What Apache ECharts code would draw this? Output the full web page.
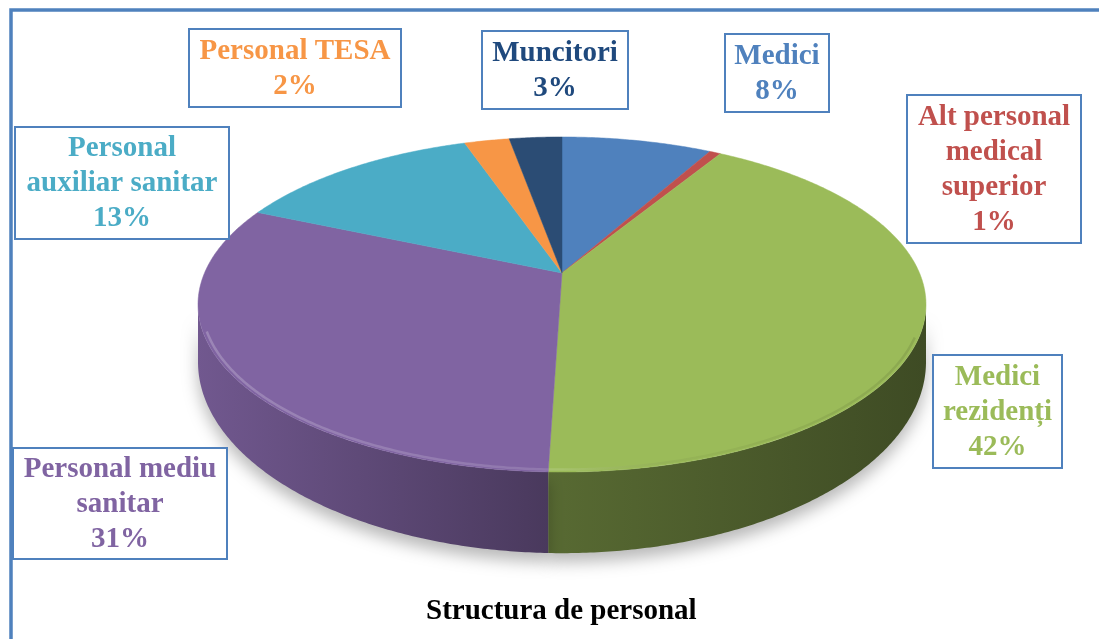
<!DOCTYPE html>
<html>
<head>
<meta charset="utf-8">
<script src="https://cdn.jsdelivr.net/npm/echarts@6/dist/echarts.min.js"></script>
<style>
  html, body { margin: 0; padding: 0; background: #fff; }
  #chart { width: 1099px; height: 639px; }
</style>
</head>
<body>
<div id="chart"></div>
<script>
// slices, clockwise from 12 o'clock
const names = ['Medici', 'Alt personal medical superior', 'Medici rezidenți', 'Personal mediu sanitar', 'Personal auxiliar sanitar', 'Personal TESA', 'Muncitori']
const values = [8.0, 0.6, 41.9, 31.1, 13.2, 2.4, 2.8]
const labelLines = ['Medici', 'Alt personal\nmedical\nsuperior', 'Medici\nrezidenți', 'Personal mediu\nsanitar', 'Personal\nauxiliar sanitar', 'Personal TESA', 'Muncitori']
const colors = ['#4F81BD', '#C0504D', '#9BBB59', '#8064A2', '#4BACC6', '#F79646', '#2B4C74']
const labelColors = ['#4F81BD', '#C0504D', '#9BBB59', '#8064A2', '#4BACC6', '#F79646', '#1F497D']
// label boxes [x, y, w, h]
const labelBoxes = [
  [725, 34, 104, 78],
  [907, 95, 174, 148],
  [933, 355, 129, 113],
  [13, 448, 214, 111],
  [15, 127, 214, 112],
  [189, 29, 212, 78],
  [482, 31, 146, 78]
]
const title = 'Structura de personal'

// perspective pie geometry
const cx = 562, cy = 273, A = 357.5, B = 161.6, k = 0.188, depth = 53.5
const total = values.reduce((a, b) => a + b, 0)
const starts = []
let acc = 0
values.forEach(v => { starts.push(acc); acc += v })

function proj(deg, drop, scale) {
  const t = deg * Math.PI / 180
  const s = scale || 1
  const u = Math.sin(t) * s, v = -Math.cos(t) * s
  const w = 1 / (1 - k * v)
  return [cx + A * u * w, cy + B * v * w + drop * w * w]
}

function arc(a, b, drop, scale) {
  const pts = []
  const n = Math.max(2, Math.ceil(Math.abs(b - a) / 0.5))
  for (let i = 0; i <= n; i++) pts.push(proj(a + (b - a) * i / n, drop, scale))
  return pts
}

function shade(hex, f) {
  const n = parseInt(hex.slice(1), 16)
  const c = x => Math.min(255, Math.round(x * f))
  return `rgb(${c((n >> 16) & 255)},${c((n >> 8) & 255)},${c(n & 255)})`
}

const visA = 100.8, visB = 259.2

function sliceAngles(i) {
  return [starts[i] / total * 360, (starts[i] + values[i]) / total * 360]
}

function renderWall(params, api) {
  const i = params.dataIndex
  const [a0, a1] = sliceAngles(i)
  const a = Math.max(a0, visA), b = Math.min(a1, visB)
  if (b <= a) return null
  const pts = arc(a, b, 0).concat(arc(b, a, depth))
  return {
    type: 'polygon',
    shape: { points: pts },
    style: {
      fill: new echarts.graphic.LinearGradient(197, 0, 926, 0, [
        { offset: 0, color: shade(colors[i], 0.88) },
        { offset: 0.5, color: shade(colors[i], 0.56) },
        { offset: 1, color: shade(colors[i], 0.4) }
      ], true),
      shadowBlur: 16,
      shadowColor: 'rgba(0,0,0,0.28)',
      shadowOffsetY: 9
    }
  }
}

function renderTop(params, api) {
  const i = params.dataIndex
  const [a0, a1] = sliceAngles(i)
  const children = [{
    type: 'polygon',
    shape: { points: [[cx, cy]].concat(arc(a0, a1, 0)) },
    style: { fill: colors[i], stroke: colors[i], lineWidth: 0.5 }
  }]
  // soft bevel along the front rim
  const a = Math.max(a0, 112), b = Math.min(a1, 250)
  if (b > a) {
    children.push({
      type: 'polyline',
      shape: { points: arc(a, b, 0, 0.99) },
      style: {
        fill: null,
        lineWidth: 2.5,
        stroke: new echarts.graphic.LinearGradient(197, 0, 926, 0, [
          { offset: 0, color: 'rgba(255,255,255,0.22)' },
          { offset: 0.5, color: 'rgba(255,255,255,0.12)' },
          { offset: 0.7, color: 'rgba(0,0,0,0.04)' },
          { offset: 1, color: 'rgba(0,0,0,0.1)' }
        ], true)
      }
    })
  }
  return { type: 'group', children: children }
}

const graphics = [{
  type: 'rect',
  shape: { x: 11, y: 10, width: 1200, height: 700 },
  style: { fill: 'none', stroke: '#4F81BD', lineWidth: 3.5 },
  silent: true
}]
names.forEach((name, i) => {
  const [x, y, w, h] = labelBoxes[i]
  const pct = Math.round(values[i] / total * 100) + '%'
  graphics.push({
    type: 'rect',
    shape: { x: x, y: y, width: w, height: h },
    style: { fill: '#fff', stroke: '#4F81BD', lineWidth: 2 },
    z: 10
  })
  graphics.push({
    type: 'text',
    x: x + w / 2,
    y: y + h / 2 + 1,
    style: {
      text: labelLines[i] + '\n' + pct,
      align: 'center',
      verticalAlign: 'middle',
      font: 'bold 29px "Liberation Serif", serif',
      lineHeight: 35,
      fill: labelColors[i]
    },
    z: 11
  })
})

const chart = echarts.init(document.getElementById('chart'))
chart.setOption({
  animation: false,
  backgroundColor: '#fff',
  title: {
    text: title,
    left: 421,
    top: 592,
    textStyle: { fontFamily: '"Liberation Serif", serif', fontSize: 29, fontWeight: 'bold', color: '#000' }
  },
  graphic: graphics,
  series: [
    { type: 'custom', coordinateSystem: 'none', renderItem: renderWall, data: values.map((v, i) => [i, v]), silent: true },
    { type: 'custom', coordinateSystem: 'none', renderItem: renderTop, data: values.map((v, i) => [i, v]), silent: true }
  ]
})
</script>
</body>
</html>
